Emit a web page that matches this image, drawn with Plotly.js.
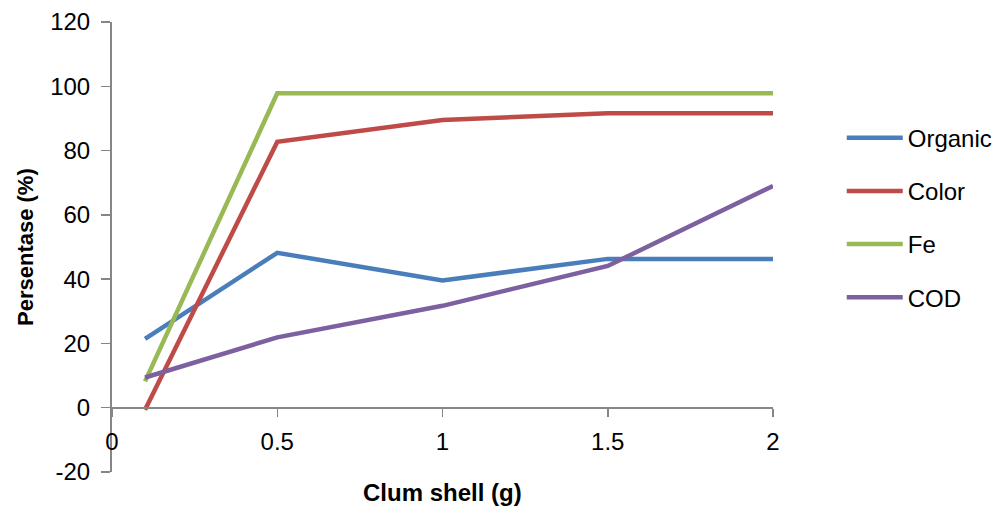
<!DOCTYPE html>
<html>
<head>
<meta charset="utf-8">
<script src="https://cdn.plot.ly/plotly-3.0.1.min.js"></script>
<style>
  html, body { margin: 0; padding: 0; background: #ffffff; }
  #chart { width: 995px; height: 508px; }
</style>
</head>
<body>
<div id="chart"></div>
<script>
// Clam shell dose (g)
const doseG = [0.1, 0.5, 1, 1.5, 2];

// Removal percentage per parameter
const organic = [21.4, 48.2, 39.6, 46.3, 46.3];
const color   = [-0.6, 82.7, 89.5, 91.6, 91.6];
const fe      = [8.2, 97.8, 97.8, 97.8, 97.8];
const cod     = [9.4, 21.9, 31.7, 44.1, 69.0];

const seriesNames  = ['Organic', 'Color', 'Fe', 'COD'];
const seriesValues = [organic, color, fe, cod];
const seriesColors = ['#4A7EBB', '#BE4B48', '#98B954', '#7D60A0'];

const xTickVals = [0, 0.5, 1, 1.5, 2];
const xTickText = ['0', '0.5', '1', '1.5', '2'];
const yTickVals = [-20, 0, 20, 40, 60, 80, 100, 120];
const yTickText = ['-20', '0', '20', '40', '60', '80', '100', '120'];

const FONT = '"Liberation Sans", Arial, sans-serif';
const AXIS_GREY = '#868686';

const traces = seriesNames.map((name, i) => ({
  type: 'scatter',
  mode: 'lines',
  name: name,
  legendgroup: name,
  x: doseG,
  y: seriesValues[i],
  line: { color: seriesColors[i], width: 4.5 },
  hoverinfo: 'x+y+name'
}));

const yMin = -20, yMax = 120;

const layout = {
  width: 995,
  height: 508,
  margin: { l: 112, r: 222, t: 22, b: 36, autoexpand: false },
  paper_bgcolor: '#ffffff',
  plot_bgcolor: '#ffffff',
  font: { family: FONT, size: 24, color: '#000000' },
  showlegend: true,
  legend: {
    x: 1.104, xanchor: 'left',
    y: 0.792, yanchor: 'top',
    traceorder: 'grouped',
    tracegroupgap: 19,
    itemwidth: 56,
    font: { family: FONT, size: 24, color: '#000000' },
    bgcolor: 'rgba(0,0,0,0)'
  },
  xaxis: {
    range: [0, 2],
    tickvals: xTickVals,
    ticktext: xTickText,
    ticks: 'outside',
    ticklen: 8,
    tickwidth: 1.5,
    tickcolor: AXIS_GREY,
    ticklabelstandoff: 4,
    showline: true,
    linecolor: AXIS_GREY,
    linewidth: 2,
    showgrid: false,
    zeroline: false,
    anchor: 'free',
    position: (0 - yMin) / (yMax - yMin),
    tickfont: { family: FONT, size: 24, color: '#000000' },
    fixedrange: true
  },
  yaxis: {
    range: [yMin, yMax],
    tickvals: yTickVals,
    ticktext: yTickText,
    ticks: 'outside',
    ticklen: 9,
    tickwidth: 1.5,
    tickcolor: AXIS_GREY,
    ticklabelstandoff: 6,
    showline: true,
    linecolor: AXIS_GREY,
    linewidth: 2,
    showgrid: false,
    zeroline: false,
    tickfont: { family: FONT, size: 24, color: '#000000' },
    fixedrange: true
  },
  annotations: [
    {
      text: '<b>Clum shell (g)</b>',
      xref: 'paper', yref: 'paper',
      x: 0.5, y: 0, yshift: -20,
      xanchor: 'center', yanchor: 'middle',
      showarrow: false,
      font: { family: FONT, size: 24, color: '#000000' }
    },
    {
      text: '<b>Persentase (%)</b>',
      xref: 'paper', yref: 'paper',
      x: 0, xshift: -87,
      y: 0.5, yshift: 0,
      xanchor: 'center', yanchor: 'middle',
      textangle: -90,
      showarrow: false,
      font: { family: FONT, size: 22, color: '#000000' }
    }
  ]
};

Plotly.newPlot('chart', traces, layout, { displayModeBar: false, staticPlot: true });
</script>
</body>
</html>
